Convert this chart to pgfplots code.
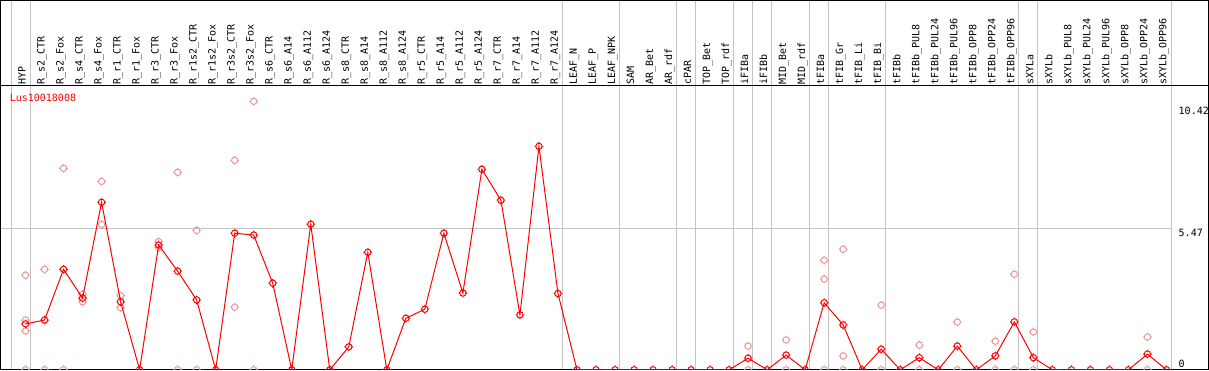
\documentclass[border=0pt]{standalone}
\usepackage{pgfplots}
\pgfplotsset{compat=1.18}
\usepackage{fontspec}
\setmonofont{DejaVu Sans Mono}
\definecolor{mainred}{RGB}{255,0,0}
\definecolor{faintred}{RGB}{236,150,150}
\definecolor{sepgray}{RGB}{195,195,195}
\pgfdeclareplotmark{tcirc}{%
  \pgfpathcircle{\pgfpointorigin}{\pgfplotmarksize}%
  \pgfpathmoveto{\pgfpoint{0pt}{\pgfplotmarksize}}\pgfpathlineto{\pgfpoint{0pt}{1.35\pgfplotmarksize}}%
  \pgfpathmoveto{\pgfpoint{0pt}{-\pgfplotmarksize}}\pgfpathlineto{\pgfpoint{0pt}{-1.35\pgfplotmarksize}}%
  \pgfpathmoveto{\pgfpoint{\pgfplotmarksize}{0pt}}\pgfpathlineto{\pgfpoint{1.35\pgfplotmarksize}{0pt}}%
  \pgfpathmoveto{\pgfpoint{-\pgfplotmarksize}{0pt}}\pgfpathlineto{\pgfpoint{-1.35\pgfplotmarksize}{0pt}}%
  \pgfusepathqstroke}
\newcommand{\lab}{\ttfamily\fontsize{7.5}{8}\selectfont}
\begin{document}
\begin{tikzpicture}
\begin{axis}[
  width=905.25pt, height=213pt, scale only axis,
  xmin=-1.3158, xmax=62.2105, ymin=0, ymax=11.029,
  axis line style={line width=0.75pt, black},
  clip mode=individual, clip marker paths=true,
  xtick={0,...,60},
  xticklabels={HYP,R\_s2\_CTR,R\_s2\_Fox,R\_s4\_CTR,R\_s4\_Fox,R\_r1\_CTR,R\_r1\_Fox,R\_r3\_CTR,R\_r3\_Fox,R\_r1s2\_CTR,R\_r1s2\_Fox,R\_r3s2\_CTR,R\_r3s2\_Fox,R\_s6\_CTR,R\_s6\_A14,R\_s6\_A112,R\_s6\_A124,R\_s8\_CTR,R\_s8\_A14,R\_s8\_A112,R\_s8\_A124,R\_r5\_CTR,R\_r5\_A14,R\_r5\_A112,R\_r5\_A124,R\_r7\_CTR,R\_r7\_A14,R\_r7\_A112,R\_r7\_A124,LEAF\_N,LEAF\_P,LEAF\_NPK,SAM,AR\_Bet,AR\_rdf,cPAR,TOP\_Bet,TOP\_rdf,iFIBa,iFIBb,MID\_Bet,MID\_rdf,tFIBa,tFIB\_Gr,tFIB\_Li,tFIB\_Bi,tFIBb,tFIBb\_PUL8,tFIBb\_PUL24,tFIBb\_PUL96,tFIBb\_OPP8,tFIBb\_OPP24,tFIBb\_OPP96,sXYLa,sXYLb,sXYLb\_PUL8,sXYLb\_PUL24,sXYLb\_PUL96,sXYLb\_OPP8,sXYLb\_OPP24,sXYLb\_OPP96},
  xticklabel pos=upper,
  xticklabel style={rotate=90, anchor=base west, font=\lab, inner sep=0.75pt},
  major tick length=0pt,
  ytick=\empty,
  mark size=2.4pt,
]
% separators
\foreach \s in {-0.76,0.24,28.24,31.24,34.24,35.24,37.24,38.24,39.24,41.24,42.24,45.24,52.24,53.24,60.24}{
  \edef\tmp{\noexpand\draw[sepgray, line width=0.75pt] (axis cs:\s,0) -- (axis cs:\s,14.33);}\tmp
}
\draw[sepgray, line width=0.75pt] (axis cs:-1.3158,5.47) -- (axis cs:60.24,5.47);
\draw[black, line width=0.75pt] (axis cs:-1.3158,0) rectangle (axis cs:62.2105,14.33);
\draw[black, line width=0.75pt] (axis cs:-1.3158,11.029) -- (axis cs:62.2105,11.029);

% replicate values
\addplot[only marks, mark=tcirc, color=faintred, mark options={line width=0.75pt}] coordinates {
 (0,3.67) (0,1.93) (0,1.51) (0,0)
 (1,3.90) (1,0)
 (2,7.82) (2,0)
 (3,2.93) (3,2.64)
 (4,7.31) (4,5.64)
 (5,2.87) (5,2.41)
 (7,4.97) (7,4.74)
 (8,7.66) (8,0)
 (9,5.41) (9,0)
 (11,8.13) (11,2.43)
 (12,10.42) (12,0)
 (38,0.92) (38,0)
 (40,1.16) (40,0)
 (42,4.25) (42,3.52) (42,0)
 (43,4.68) (43,0.54) (43,0)
 (45,2.51) (45,0)
 (47,0.96) (47,0)
 (49,1.85) (49,0)
 (51,1.11) (51,0)
 (52,3.71) (52,0)
 (53,1.47) (53,0)
 (59,1.27) (59,0)
};
% mean line
\addplot[mainred, line width=0.75pt, mark=tcirc, mark options={line width=0.75pt, solid}] coordinates {
 (0,1.78) (1,1.93) (2,3.90) (3,2.78) (4,6.50) (5,2.64) (6,0) (7,4.84) (8,3.83) (9,2.71)
 (10,0) (11,5.30) (12,5.23) (13,3.36) (14,0) (15,5.65) (16,0) (17,0.89) (18,4.56) (19,0)
 (20,2.00) (21,2.35) (22,5.30) (23,2.98) (24,7.78) (25,6.58) (26,2.13) (27,8.67) (28,2.96) (29,0)
 (30,0) (31,0) (32,0) (33,0) (34,0) (35,0) (36,0) (37,0) (38,0.45) (39,0)
 (40,0.57) (41,0) (42,2.60) (43,1.74) (44,0) (45,0.80) (46,0) (47,0.47) (48,0) (49,0.92)
 (50,0) (51,0.54) (52,1.86) (53,0.47) (54,0) (55,0) (56,0) (57,0) (58,0) (59,0.61)
 (60,0)
};
\node[anchor=north west, inner sep=0pt, text=mainred, font=\lab] at (axis cs:-0.842,10.71) {Lus10018008};
\node[anchor=north west, inner sep=0pt, font=\lab] at (axis cs:60.63,10.21) {10.42};
\node[anchor=north west, inner sep=0pt, font=\lab] at (axis cs:60.63,5.46) {5.47};
\node[anchor=north west, inner sep=0pt, font=\lab] at (axis cs:60.63,0.40) {0};
\end{axis}
\end{tikzpicture}
\end{document}
